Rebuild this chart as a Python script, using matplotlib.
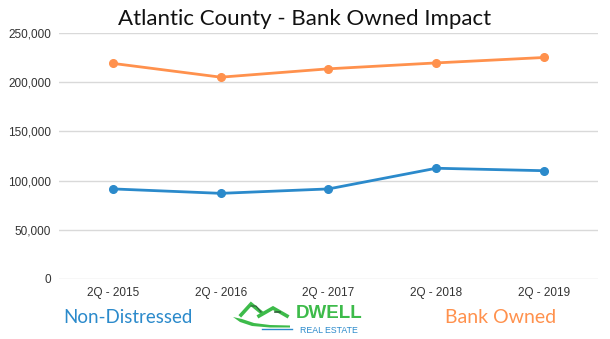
import matplotlib.pyplot as plt
from matplotlib.ticker import FuncFormatter
from matplotlib.patches import Polygon
from matplotlib.lines import Line2D

# Dados: preço médio por trimestre
quarters = ["2Q - 2015", "2Q - 2016", "2Q - 2017", "2Q - 2018", "2Q - 2019"]
non_distressed = [91500, 87000, 91500, 112500, 110000]
bank_owned = [219000, 205000, 213500, 219500, 225000]

BLUE = "#2b8acb"
ORANGE = "#ff914d"
GREEN = "#3dbb4a"

fig = plt.figure(figsize=(6.10, 3.39), dpi=100)
ax = fig.add_axes([0.097, 0.177, 0.883, 0.726])

x = range(len(quarters))
ax.plot(x, bank_owned, color=ORANGE, lw=2.0, marker="o", ms=5.5, zorder=3)
ax.plot(x, non_distressed, color=BLUE, lw=2.0, marker="o", ms=5.5, zorder=3)

ax.set_xlim(-0.5, len(quarters) - 0.5)
ax.set_ylim(0, 250000)
ax.set_yticks(range(0, 250001, 50000))
ax.yaxis.set_major_formatter(FuncFormatter(lambda v, _: f"{int(v):,}"))
ax.set_xticks(list(x))
ax.set_xticklabels(quarters)
ax.grid(axis="y", color="#d9d9d9", lw=1.0)
ax.set_axisbelow(True)
for s in ax.spines.values():
    s.set_visible(False)
ax.tick_params(length=0, labelsize=8.5, colors="#333333", labelfontfamily="Liberation Sans")
ax.tick_params(axis="y", pad=6)
ax.tick_params(axis="x", pad=6)

# Título
fig.text(0.5, 0.945, "Atlantic County - Bank Owned Impact", ha="center", va="center",
         fontsize=16, family="Lato", color="#111111")

# Legenda em texto colorido
fig.text(0.210, 0.063, "Non-Distressed", ha="center", va="center",
         fontsize=13.5, family="Lato", color=BLUE)
fig.text(0.820, 0.063, "Bank Owned", ha="center", va="center",
         fontsize=14, family="Lato", color=ORANGE)

# Logo: telhados, curva e texto
W, H = 610, 339
def fx(px):
    return px / W
def fy(py):
    return 1 - py / H

fig.text(fx(329), fy(318.5), "DWELL", ha="center", va="baseline", fontsize=13.5,
         family="Liberation Sans", weight="bold", color=GREEN)
fig.text(fx(329), fy(326), "REAL ESTATE", ha="center", va="top", fontsize=6.3,
         family="Liberation Sans", color=BLUE)

swoosh = [(233, 317), (240, 322), (252, 326), (270, 327.5), (290, 327.5),
          (290, 325.5), (270, 325), (254, 323), (242, 319)]
fig.patches.append(Polygon([(fx(a), fy(b)) for a, b in swoosh], closed=True,
                           transform=fig.transFigure, facecolor=GREEN, edgecolor="none"))
fig.lines.append(Line2D([fx(241), fx(251), fx(262)], [fy(315), fy(304), fy(313)],
                        transform=fig.transFigure, color=GREEN, lw=2.6,
                        solid_joinstyle="miter"))
fig.lines.append(Line2D([fx(259), fx(273), fx(287)], [fy(316), fy(308), fy(316)],
                        transform=fig.transFigure, color=GREEN, lw=2.6,
                        solid_joinstyle="miter"))
fig.lines.append(Line2D([fx(251), fx(256), fx(261)], [fy(306), fy(306), fy(312)],
                        transform=fig.transFigure, color="#2f5f3a", lw=0.8))
fig.lines.append(Line2D([fx(275), fx(280)], [fy(312), fy(312)],
                        transform=fig.transFigure, color="#2f5f3a", lw=1.2))
fig.lines.append(Line2D([fx(262), fx(292)], [fy(328.5), fy(328.5)],
                        transform=fig.transFigure, color=BLUE, lw=1.0))

fig.savefig("out.png", dpi=100, facecolor="white")
